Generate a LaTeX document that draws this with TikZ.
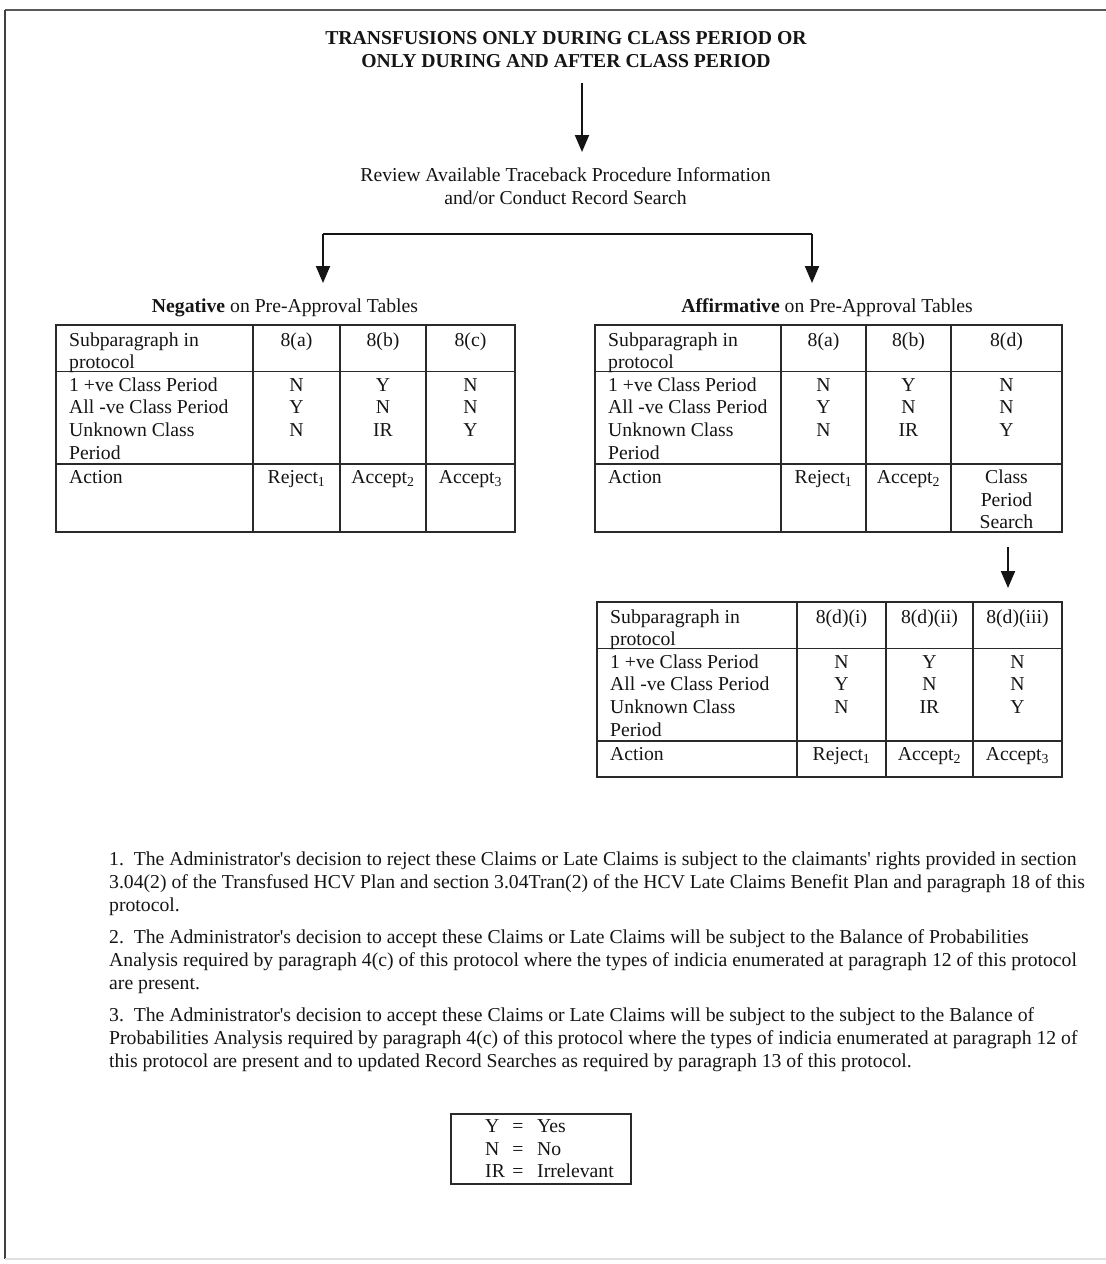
\documentclass[tikz,border=0pt]{standalone}
\usepackage{fontspec}
\setmainfont{Liberation Serif}
\usetikzlibrary{arrows.meta}
\newcommand\fsz{\fontsize{19.7}{23}\selectfont}
\definecolor{ink}{HTML}{151515}
\definecolor{rulec}{HTML}{2A2A2A}
\newcommand\sub[1]{\textsubscript{#1}}
\newcommand\ap{\textquotesingle}
% #1 name, #2..#6 column boundaries x, #7 top y, #8 bottom y
\newcommand\tbl[8]{%
  \node[draw=rulec, line width=1.5pt, inner sep=0pt, outer sep=0pt, anchor=north west,
        minimum width={(#6-#2)*1pt}, minimum height={(#8-#7)*1pt}] (#1) at (#2,#7) {};
  \draw[rulec, line width=1.5pt] (#3,#7) -- (#3,#8) (#4,#7) -- (#4,#8) (#5,#7) -- (#5,#8)
     (#2,#7+46.5) -- (#6,#7+46.5) (#2,#7+139) -- (#6,#7+139);
  \node[lt] (#1l1) at (#2+13,#7+21.5) {Subparagraph in};
  \node[lt] (#1l2) at (#2+13,#7+43.5) {protocol};
  \node[lt] (#1l3) at (#2+13,#7+66) {1 +ve Class Period};
  \node[lt] (#1l4) at (#2+13,#7+88.5) {All -ve Class Period};
  \node[lt] (#1l5) at (#2+13,#7+111) {Unknown Class};
  \node[lt] (#1l6) at (#2+13,#7+134) {Period};
  \node[lt] (#1l7) at (#2+13,#7+158.5) {Action};
}
% #1 name prefix, #2 x center, #3 top y, #4 header, #5 #6 #7 values, #8 action
\newcommand\tcol[8]{%
  \node[txt] (#1h) at (#2,#3+21.5) {#4};
  \node[txt] (#1a) at (#2,#3+66) {#5};
  \node[txt] (#1b) at (#2,#3+88.5) {#6};
  \node[txt] (#1c) at (#2,#3+111) {#7};
  \node[txt] (#1d) at (#2,#3+158.5) {#8};
}
\begin{document}
\begin{tikzpicture}[x=1pt,y=-1pt,
  txt/.style={font=\fsz, text=ink, inner sep=0pt, anchor=base},
  lt/.style={font=\fsz, text=ink, inner sep=0pt, anchor=base west},
  conn/.style={draw=ink, line width=2pt},
  arr/.style={draw=ink, line width=2pt, -{Triangle[length=17pt,width=14pt]}}]
\useasboundingbox (0,0) rectangle (1106,1264);
\fill[white] (0,0) rectangle (1106,1264);
% page frame
\draw[draw=black!65, line width=2.2pt] (1106,10) -- (5,10);
\draw[draw=black!75, line width=1.5pt] (5,10) -- (5,1259);
\draw[draw=black!12, line width=1.5pt] (5,1259) -- (1106,1259);

% title
\node[txt, font=\fsz\bfseries] (t1) at (566,44) {TRANSFUSIONS ONLY DURING CLASS PERIOD OR};
\node[txt, font=\fsz\bfseries] (t2) at (566,67) {ONLY DURING AND AFTER CLASS PERIOD};
\coordinate (a1s) at (582,83);
\coordinate (a1e) at (582,152);
\draw[arr] (a1s) -- (a1e);

% review
\node[txt] (r1) at (565.5,181.5) {Review Available Traceback Procedure Information};
\node[txt] (r2) at (565.5,204) {and/or Conduct Record Search};

% split connector
\coordinate (bL) at (323,234);
\coordinate (bR) at (812,234);
\coordinate (tipL) at (323,283);
\coordinate (tipR) at (812,283);
\draw[conn] (bL) -- (bR);
\draw[arr] (bL) -- (tipL);
\draw[arr] (bR) -- (tipR);

% headings
\node[txt] (negL) at (285,312) {\textbf{Negative} on Pre-Approval Tables};
\node[txt] (affL) at (827,312) {\textbf{Affirmative} on Pre-Approval Tables};

% negative table
\tbl{neg}{56}{253}{340}{426}{515}{325}{532}
\tcol{negA}{296.5}{325}{8(a)}{N}{Y}{N}{Reject\sub{1}}
\tcol{negB}{383}{325}{8(b)}{Y}{N}{IR}{Accept\sub{2}}
\tcol{negC}{470.5}{325}{8(c)}{N}{N}{Y}{Accept\sub{3}}

% affirmative table
\tbl{aff}{595}{781}{866}{951}{1062}{325}{532}
\tcol{affA}{823.5}{325}{8(a)}{N}{Y}{N}{Reject\sub{1}}
\tcol{affB}{908.5}{325}{8(b)}{Y}{N}{IR}{Accept\sub{2}}
\tcol{affC}{1006.5}{325}{8(d)}{N}{N}{Y}{Class}
\node[txt] (affCe) at (1006.5,506) {Period};
\node[txt] (affCf) at (1006.5,528.5) {Search};

% arrow to lower table
\coordinate (a3s) at (1008,547);
\coordinate (a3e) at (1008,588);
\draw[arr] (a3s) -- (a3e);

% lower table
\tbl{low}{597}{797}{886}{973}{1062}{602}{777}
\tcol{lowA}{841.5}{602}{8(d)(i)}{N}{Y}{N}{Reject\sub{1}}
\tcol{lowB}{929.5}{602}{8(d)(ii)}{Y}{N}{IR}{Accept\sub{2}}
\tcol{lowC}{1017.5}{602}{8(d)(iii)}{N}{N}{Y}{Accept\sub{3}}

% footnotes
\node[lt] (f1) at (109,865) {1.\ \ The Administrator\ap s decision to reject these Claims or Late Claims is subject to the claimants\ap\ rights provided in section};
\node[lt] (f2) at (109,888) {3.04(2) of the Transfused HCV Plan and section 3.04Tran(2) of the HCV Late Claims Benefit Plan and paragraph 18 of this};
\node[lt] (f3) at (109,911) {protocol.};
\node[lt] (f4) at (109,943) {2.\ \ The Administrator\ap s decision to accept these Claims or Late Claims will be subject to the Balance of Probabilities};
\node[lt] (f5) at (109,966) {Analysis required by paragraph 4(c) of this protocol where the types of indicia enumerated at paragraph 12 of this protocol};
\node[lt] (f6) at (109,989) {are present.};
\node[lt] (f7) at (109,1021) {3.\ \ The Administrator\ap s decision to accept these Claims or Late Claims will be subject to the subject to the Balance of};
\node[lt] (f8) at (109,1044) {Probabilities Analysis required by paragraph 4(c) of this protocol where the types of indicia enumerated at paragraph 12 of};
\node[lt] (f9) at (109,1067) {this protocol are present and to updated Record Searches as required by paragraph 13 of this protocol.};

% legend
\node[draw=rulec, line width=1.5pt, inner sep=0pt, anchor=north west,
      minimum width=180pt, minimum height=70pt] (legend) at (450,1113) {};
\node[lt] (ly) at (485,1132) {Y};
\node[txt] (lye) at (518,1132) {=};
\node[lt] (lyt) at (537,1132) {Yes};
\node[lt] (ln) at (485,1155) {N};
\node[txt] (lne) at (518,1155) {=};
\node[lt] (lnt) at (537,1155) {No};
\node[lt] (li) at (485,1177) {IR};
\node[txt] (lie) at (518,1177) {=};
\node[lt] (lit) at (537,1177) {Irrelevant};
\end{tikzpicture}
\end{document}
